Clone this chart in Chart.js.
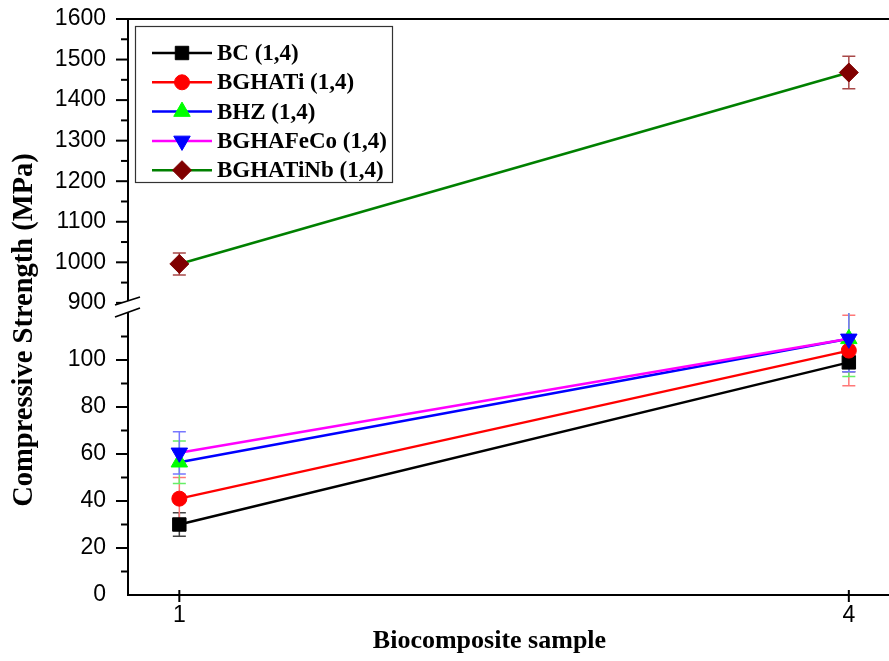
<!DOCTYPE html>
<html><head><meta charset="utf-8">
<script src="https://cdn.jsdelivr.net/npm/chart.js@4.4.1/dist/chart.umd.min.js"></script>
<style>html,body{margin:0;padding:0;background:#fff;} canvas{display:block;}</style>
</head><body>
<canvas id="c" width="889" height="661"></canvas>
<script>
// ---- data ----
const categories = [1, 4];
const seriesNames = ['BC (1,4)', 'BGHATi (1,4)', 'BHZ (1,4)', 'BGHAFeCo (1,4)', 'BGHATiNb (1,4)'];
const bcValues = [30, 99];
const bcErrors = [5, 4];
const bghatiValues = [41, 104];
const bghatiErrors = [9, 15];
const bhzValues = [56.5, 109];
const bhzErrors = [9, 16];
const bghafecoValues = [60.5, 109];
const bghafecoErrors = [9, 14];
const bghatinbValues = [996, 1468];
const bghatinbErrors = [27, 40];
const lowerMajorTicks = [0, 20, 40, 60, 80, 100];
const lowerMinorTicks = [10, 30, 50, 70, 90, 110];
const upperMajorTicks = [900, 1000, 1100, 1200, 1300, 1400, 1500, 1600];
const upperMinorTicks = [950, 1050, 1150, 1250, 1350, 1450, 1550];
const xTickValues = [1, 4];
const yTitle = 'Compressive Strength (MPa)';
const xTitle = 'Biocomposite sample';

// ---- styles ----
const styles = [
  {line: '#000000', fill: '#000000', err: '#444444', shape: 'rect', r: 9.5, rot: 0, axis: 'y', order: 5},
  {line: '#ff0000', fill: '#ff0000', err: '#ff7777', shape: 'circle', r: 7.5, rot: 0, axis: 'y', order: 4},
  {line: '#0000ff', fill: '#00ff00', err: '#66ee66', shape: 'triangle', r: 9.5, rot: 0, axis: 'y', order: 3},
  {line: '#ff00ff', fill: '#0000ff', err: '#7777ff', shape: 'triangle', r: 9.5, rot: 180, axis: 'y', order: 2},
  {line: '#008000', fill: '#800000', err: '#a84848', shape: 'rectRot', r: 9.5, rot: 0, axis: 'y2', order: 1}
];
const seriesValues = [bcValues, bghatiValues, bhzValues, bghafecoValues, bghatinbValues];
const seriesErrors = [bcErrors, bghatiErrors, bhzErrors, bghafecoErrors, bghatinbErrors];

const datasets = seriesNames.map((name, i) => ({
  label: name,
  data: categories.map((c, j) => ({x: c, y: seriesValues[i][j]})),
  yAxisID: styles[i].axis,
  borderColor: styles[i].line,
  borderWidth: 2.5,
  backgroundColor: styles[i].fill,
  pointStyle: styles[i].shape,
  pointRadius: styles[i].r,
  pointRotation: styles[i].rot,
  pointBackgroundColor: styles[i].fill,
  pointBorderColor: styles[i].fill,
  pointBorderWidth: 1,
  order: styles[i].order,
  tension: 0
}));

const TICK_FONT = {family: '"Liberation Sans", Arial, sans-serif', size: 23};
const SERIF = '"Liberation Serif", "Times New Roman", serif';

function zeroPad(s) { s.paddingTop = 0; s.paddingBottom = 0; s.paddingLeft = 0; s.paddingRight = 0; }

function yScaleOptions(min, max, major, minor, weight) {
  return {
    type: 'linear', position: 'left', stack: 'ys', stackWeight: weight,
    min: min, max: max,
    afterBuildTicks: s => { s.ticks = major.concat(minor).sort((a, b) => a - b).map(v => ({value: v})); },
    afterFit: s => { s.width = 128; zeroPad(s); },
    ticks: {
      autoSkip: false, color: '#000', font: TICK_FONT, padding: 22,
      callback: v => major.includes(v) ? String(v) : ''
    },
    grid: {drawOnChartArea: false, drawTicks: false},
    border: {display: true, color: '#000', width: 2}
  };
}

const decoPlugin = {
  id: 'deco',
  beforeDatasetsDraw(chart) {
    const ctx = chart.ctx;
    const xs = chart.scales.x;
    ctx.save();
    seriesValues.forEach((vals, i) => {
      const ys = chart.scales[styles[i].axis];
      ctx.strokeStyle = styles[i].err;
      ctx.lineWidth = 1.5;
      vals.forEach((v, j) => {
        const e = seriesErrors[i][j];
        const px = xs.getPixelForValue(categories[j]);
        let pt = ys.getPixelForValue(v + e), pb = ys.getPixelForValue(v - e);
        const ct = pt >= ys.top, cb = pb <= ys.bottom;
        pt = Math.max(pt, ys.top); pb = Math.min(pb, ys.bottom);
        ctx.beginPath();
        ctx.moveTo(px, pt); ctx.lineTo(px, pb);
        if (ct) { ctx.moveTo(px - 6.5, pt); ctx.lineTo(px + 6.5, pt); }
        if (cb) { ctx.moveTo(px - 6.5, pb); ctx.lineTo(px + 6.5, pb); }
        ctx.stroke();
      });
    });
    ctx.restore();
  },
  afterDraw(chart) {
    const ctx = chart.ctx;
    const ca = chart.chartArea;
    const L = ca.left;
    ctx.save();
    ctx.strokeStyle = '#000';
    ctx.lineWidth = 2;
    // y tick marks
    [['y', lowerMajorTicks, lowerMinorTicks], ['y2', upperMajorTicks, upperMinorTicks]].forEach(([id, maj, min]) => {
      const s = chart.scales[id];
      maj.concat(min).forEach(v => {
        const py = s.getPixelForValue(v);
        if (py < s.top - 1 || py > s.bottom - 3) return;
        const len = maj.includes(v) ? 12 : 7;
        ctx.beginPath(); ctx.moveTo(L - len, py); ctx.lineTo(L, py); ctx.stroke();
      });
    });
    // top frame
    ctx.beginPath(); ctx.moveTo(L, ca.top); ctx.lineTo(ca.right, ca.top); ctx.stroke();
    // x ticks
    const xs = chart.scales.x;
    xTickValues.forEach(v => {
      const px = xs.getPixelForValue(v);
      ctx.beginPath(); ctx.moveTo(px, ca.bottom - 5); ctx.lineTo(px, ca.bottom + 7); ctx.stroke();
    });
    // axis break
    const b = chart.scales.y2.bottom;
    ctx.fillStyle = '#fff';
    ctx.beginPath();
    ctx.moveTo(L - 13, b - 8); ctx.lineTo(L + 12, b - 16);
    ctx.lineTo(L + 12, b - 5); ctx.lineTo(L - 13, b + 4); ctx.closePath();
    ctx.fill();
    ctx.lineWidth = 1.8;
    ctx.beginPath();
    ctx.moveTo(L - 13, b - 8); ctx.lineTo(L + 12, b - 16);
    ctx.moveTo(L - 13, b + 4); ctx.lineTo(L + 12, b - 5);
    ctx.stroke();
    // legend
    const lx = L + 7, ly = ca.top + 7, lw = 257, lh = 156;
    ctx.lineWidth = 1.2;
    ctx.strokeStyle = '#333';
    ctx.strokeRect(lx + 0.5, ly + 0.5, lw, lh);
    ctx.font = 'bold 23px ' + SERIF;
    ctx.textBaseline = 'middle';
    ctx.textAlign = 'left';
    seriesNames.forEach((name, i) => {
      const ry = ly + 27 + i * 29.3;
      ctx.strokeStyle = styles[i].line;
      ctx.lineWidth = 2.5;
      ctx.beginPath(); ctx.moveTo(lx + 17, ry); ctx.lineTo(lx + 77, ry); ctx.stroke();
      ctx.fillStyle = styles[i].fill;
      ctx.strokeStyle = styles[i].fill;
      ctx.lineWidth = 1;
      Chart.helpers.drawPoint(ctx, {pointStyle: styles[i].shape, radius: styles[i].r, rotation: styles[i].rot, borderWidth: 1}, lx + 47, ry);
      ctx.fillStyle = '#000';
      ctx.fillText(name, lx + 82, ry + 1);
    });
    // titles
    ctx.fillStyle = '#000';
    ctx.font = 'bold 26px ' + SERIF;
    ctx.textAlign = 'center';
    ctx.textBaseline = 'alphabetic';
    ctx.fillText(xTitle, L + (ca.right - L) * 0.475, 648);
    ctx.save();
    ctx.translate(32, 330);
    ctx.rotate(-Math.PI / 2);
    ctx.font = 'bold 28.5px ' + SERIF;
    ctx.fillText(yTitle, 0, 0);
    ctx.restore();
    ctx.restore();
  }
};

new Chart(document.getElementById('c'), {
  type: 'line',
  data: {datasets: datasets},
  options: {
    responsive: false,
    animation: false,
    layout: {autoPadding: false, padding: {top: 19, left: 0, right: 0, bottom: 0}},
    plugins: {legend: {display: false}, tooltip: {enabled: false}, title: {display: false}},
    scales: {
      x: {
        type: 'linear', position: 'bottom', min: 0.77, max: 4.18,
        afterBuildTicks: s => { s.ticks = xTickValues.map(v => ({value: v})); },
        afterFit: s => { s.height = 66; zeroPad(s); },
        ticks: {color: '#000', font: TICK_FONT, padding: 7, autoSkip: false},
        grid: {drawOnChartArea: false, drawTicks: false},
        border: {display: true, color: '#000', width: 2}
      },
      y: yScaleOptions(0, 120, lowerMajorTicks, lowerMinorTicks, 282),
      y2: yScaleOptions(875, 1600, upperMajorTicks, upperMinorTicks, 294)
    }
  },
  plugins: [decoPlugin]
});
</script>
</body></html>
